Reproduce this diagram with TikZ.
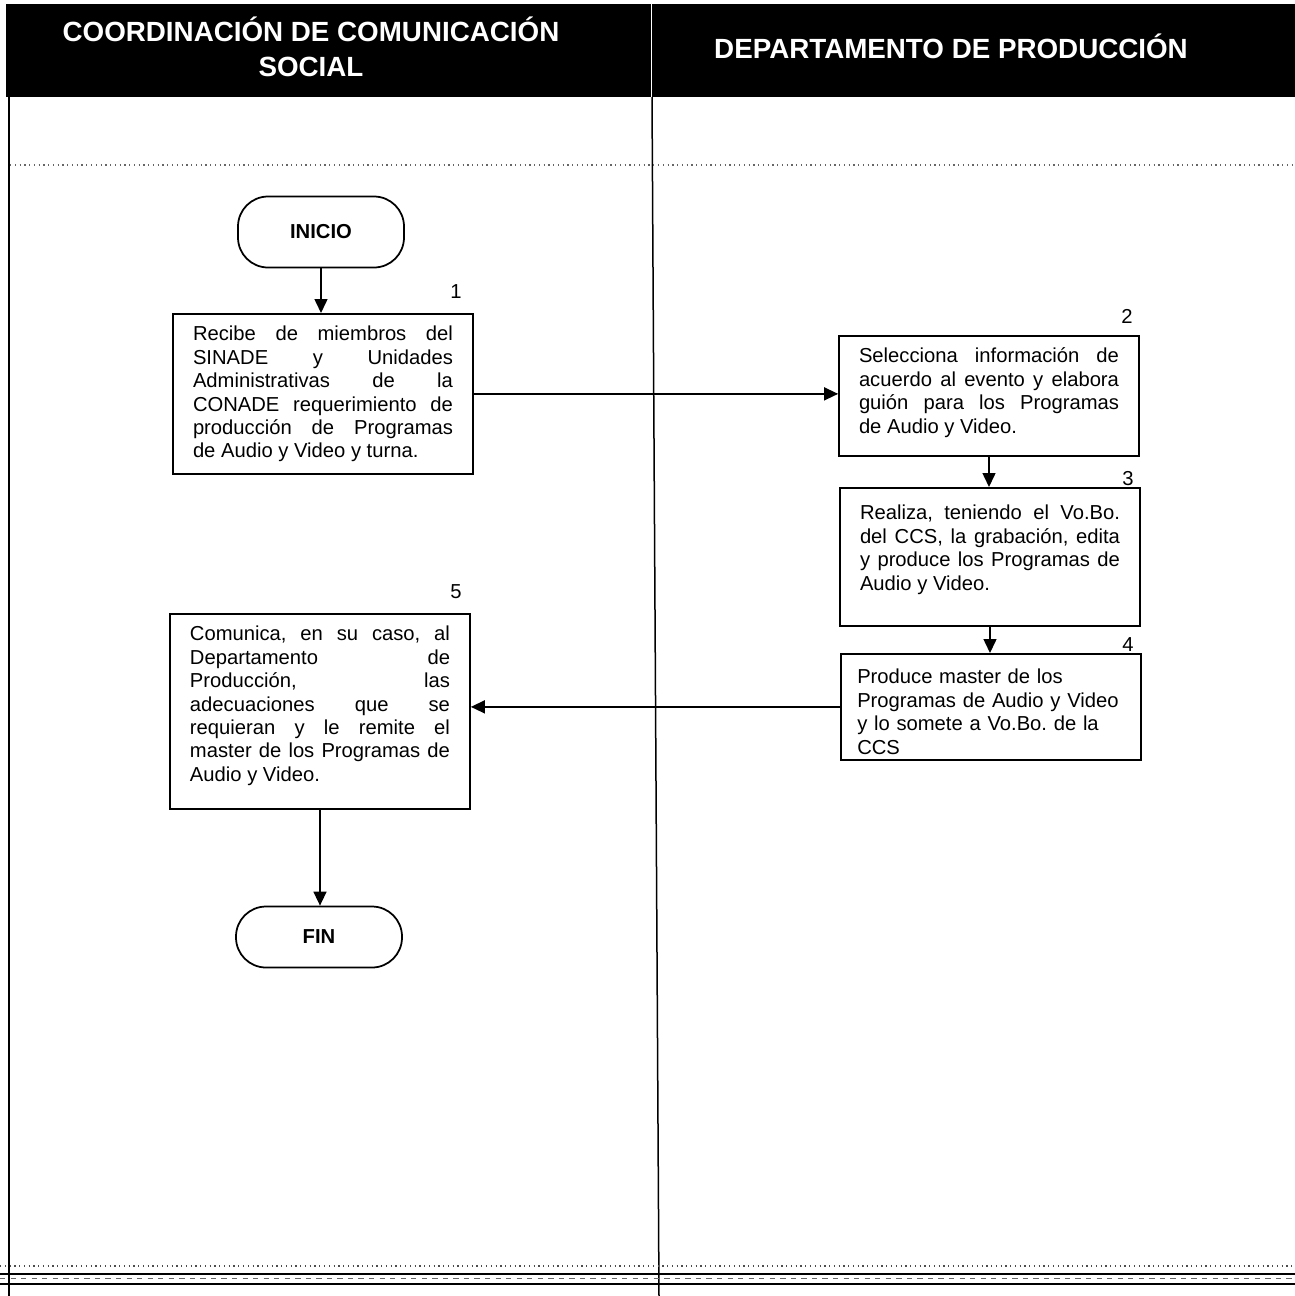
\documentclass[tikz,border=0pt]{standalone}
\usepackage{fontspec}
\setmainfont{Liberation Sans}
\usetikzlibrary{positioning, arrows.meta}

\newcommand{\textocaja}{\fontsize{11.5}{13.3}\selectfont\frenchspacing}

\begin{document}
\begin{tikzpicture}[x=0.2mm, y=-0.2mm,
    caja/.style={draw, line width=0.35mm, text width=52mm, inner xsep=4mm, inner ysep=0pt,
      text height=5.4mm, align=justify, font=\textocaja, anchor=north},
    terminal/.style={draw, line width=0.35mm, rounded corners=6mm, minimum width=33.2mm,
      font=\textocaja\bfseries},
    flecha/.style={line width=0.3mm, -{Triangle[length=2.8mm, width=2.6mm]}},
    numero/.style={font=\textocaja, inner sep=0pt},
    encabezado/.style={text=white, font=\fontsize{15.8}{19.9}\selectfont\bfseries, align=center}]
    \useasboundingbox (0,0) rectangle (1295,1296);

    % encabezado de carriles
    \fill[black] (6,4) rectangle (1295,97);
    \draw[white, line width=0.2mm] (651,4) -- (651,97);
    \node[encabezado] (cab1) at (311,47) {COORDINACIÓN DE COMUNICACIÓN\\SOCIAL};
    \node[encabezado] (cab2) at (951,46) {DEPARTAMENTO DE PRODUCCIÓN};

    % carriles
    \draw[line width=0.3mm] (9,97) -- (9,1296);
    \draw[line width=0.3mm] (652,97) -- (659,1296);
    \draw[dotted, line width=0.25mm, black!60] (10,165) -- (1295,165);
    \draw[dotted, line width=0.25mm, black!70] (0,1266) -- (1295,1266);
    \draw[line width=0.45mm] (0,1274) -- (1295,1274);
    \draw[dashed, line width=0.2mm, black!60] (0,1278.5) -- (1295,1278.5);
    \draw[line width=0.45mm] (0,1284) -- (1295,1284);

    % pasos
    \node[terminal, minimum height=14.2mm] (inicio) at (321,232) {INICIO};
    \node[caja, text depth=26.6mm] (p1) at (323,313) {Recibe de miembros del\linebreak
      SINADE y Unidades\linebreak Administrativas de la\linebreak
      CONADE requerimiento de\linebreak producción de Programas\linebreak
      de Audio y Video y turna.};
    \node[numero] (n1) at (456,292) {1};

    \node[caja, text depth=18.6mm] (p2) at (989,335) {Selecciona información de\linebreak
      acuerdo al evento y elabora\linebreak guión para los Programas\linebreak
      de Audio y Video.};
    \node[numero] (n2) at (1127,316) {2};

    \node[caja, text height=6.4mm, text depth=21.2mm] (p3) at (990,487) {Realiza, teniendo el Vo.Bo.\linebreak
      del CCS, la grabación, edita\linebreak y produce los Programas de\linebreak
      Audio y Video.};
    \node[numero] (n3) at (1128,479) {3};

    \node[caja, align=left, text width=53.5mm, inner xsep=3.25mm, text height=6mm,
      text depth=15.2mm] (p4) at (991,653) {Produce master de los\\
      Programas de Audio y Video\\ y lo somete a Vo.Bo. de la\\ CCS};
    \node[numero] (n4) at (1128,645) {4};

    \node[caja, text depth=33.6mm] (p5) at (320,613) {Comunica, en su caso, al\linebreak
      Departamento de\linebreak Producción, las\linebreak
      adecuaciones que se\linebreak requieran y le remite el\linebreak
      master de los Programas de\linebreak Audio y Video.};
    \node[numero] (n5) at (456,592) {5};

    \node[terminal, minimum height=12.2mm] (fin) at (319,937) {FIN};

    % flujo
    \draw[flecha] (inicio.south) -- (inicio.south |- p1.north);
    \draw[flecha] (p1.east) -- (p1.east -| p2.west);
    \draw[flecha] (p2.south) -- (p2.south |- p3.north);
    \draw[flecha] (p3.south) -- (p3.south |- p4.north);
    \draw[flecha] (p4.west) -- (p4.west -| p5.east);
    \draw[flecha] (p5.south) -- (p5.south |- fin.north);
\end{tikzpicture}
\end{document}
